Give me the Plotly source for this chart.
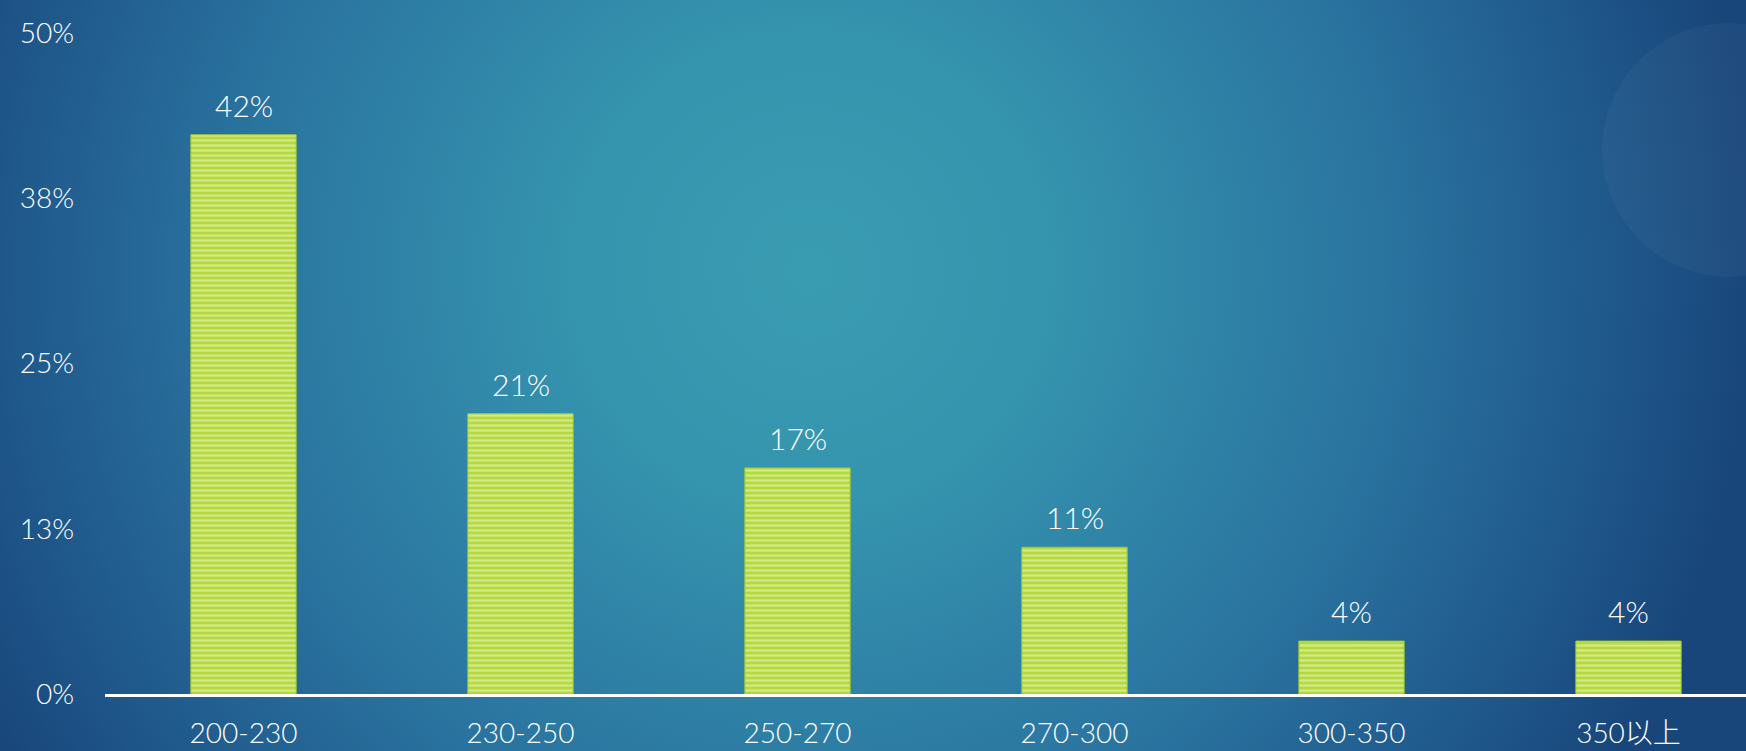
import base64
import plotly.graph_objects as go

categories = ["200-230", "230-250", "250-270", "270-300", "300-350", "350以上"]
values = [0.423, 0.212, 0.171, 0.111, 0.040, 0.040]
y_ticks = [0, 0.125, 0.25, 0.375, 0.5]

W, H = 1746, 751
ML, MR, MT, MB = 105, 0, 33, 57
PW, PH = W - ML - MR, H - MT - MB

FONT = "Lato, 'Noto Sans CJK SC', sans-serif"

svg = f'''<svg xmlns="http://www.w3.org/2000/svg" width="{W}" height="{H}" viewBox="0 0 {W} {H}">
<defs>
<radialGradient id="g" gradientUnits="userSpaceOnUse" cx="810" cy="270" r="950">
<stop offset="0" stop-color="#3a9cb1"/>
<stop offset="0.25" stop-color="#3594ae"/>
<stop offset="0.6" stop-color="#2a74a0"/>
<stop offset="0.85" stop-color="#1f578a"/>
<stop offset="1" stop-color="#18457a"/>
</radialGradient>
</defs>
<rect x="0" y="0" width="{W}" height="{H}" fill="url(#g)"/>
<circle cx="1729" cy="150" r="127" fill="#ffffff" fill-opacity="0.035"/>
</svg>'''
src = "data:image/svg+xml;base64," + base64.b64encode(svg.encode("utf-8")).decode("ascii")

fig = go.Figure()
fig.add_trace(go.Bar(
    x=categories,
    y=values,
    marker=dict(
        color="#b6d93e",
        line=dict(color="#a6cc2e", width=1),
        pattern=dict(shape="-", fgcolor="#f1f9d4", size=5, solidity=0.45),
    ),
    hoverinfo="skip",
))

for c, v in zip(categories, values):
    fig.add_annotation(
        x=c, y=v, text=f"{round(v * 100):d}%", showarrow=False,
        yanchor="bottom", yshift=10,
        font=dict(family=FONT, size=30, color="white", weight=300),
    )

fig.update_layout(
    width=W, height=H,
    margin=dict(l=ML, r=MR, t=MT, b=MB, pad=0),
    paper_bgcolor="#1d5486",
    plot_bgcolor="rgba(0,0,0,0)",
    bargap=0.62,
    showlegend=False,
    font=dict(family=FONT, color="white", size=28, weight=300),
    images=[dict(
        source=src, xref="paper", yref="paper",
        x=-ML / PW, y=1 + MT / PH, sizex=W / PW, sizey=H / PH,
        xanchor="left", yanchor="top", sizing="stretch", layer="below",
    )],
)
fig.update_xaxes(
    type="category",
    range=[-0.5, -0.5 + PW / 277.0],
    showline=True, linecolor="white", linewidth=3,
    showgrid=False, zeroline=False, ticks="",
    ticklabelstandoff=12,
    tickfont=dict(family=FONT, size=28, color="white", weight=300),
)
fig.update_yaxes(
    range=[0, 0.5],
    tickvals=y_ticks, tickformat=".0%",
    showgrid=False, zeroline=False, showline=False, ticks="",
    ticklabelstandoff=30,
    tickfont=dict(family=FONT, size=28, color="white", weight=300),
)

fig.write_html(
    "out.html",
    config={"displayModeBar": False},
    post_script="document.body.style.margin='0';document.body.style.overflow='hidden';",
)
